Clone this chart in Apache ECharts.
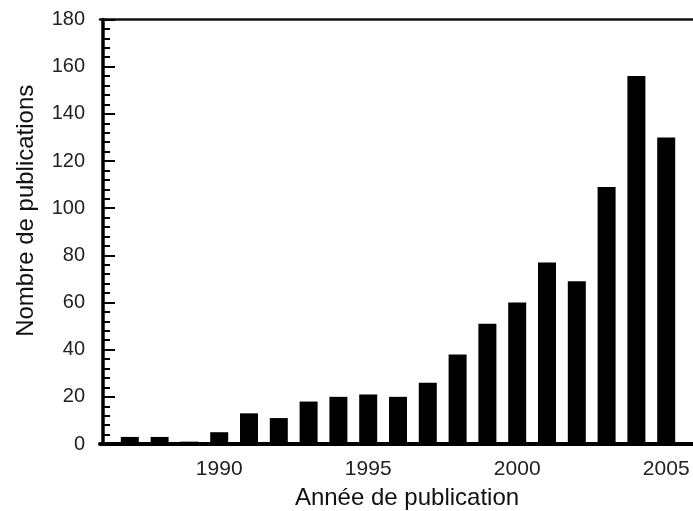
<!DOCTYPE html>
<html>
<head>
	<meta charset="utf-8">
	<title>Nombre de publications</title>
	<script src="https://cdn.jsdelivr.net/npm/echarts@6/dist/echarts.min.js"></script>
	<style type="text/css">
		* { margin: 0; padding: 0; }
		body { background: #fff; overflow: hidden; }
		#main { width: 693px; height: 511px; }
	</style>
</head>
<body>
<div id="main"></div>
<script type="text/javascript">
    var years = [1987, 1988, 1989, 1990, 1991, 1992, 1993, 1994, 1995, 1996,
                 1997, 1998, 1999, 2000, 2001, 2002, 2003, 2004, 2005];
    var counts = [3, 3, 1, 5, 13, 11, 18, 20, 21, 20,
                  26, 38, 51, 60, 77, 69, 109, 156, 130];
    var yTicks = [0, 20, 40, 60, 80, 100, 120, 140, 160, 180];

    var font = "'Liberation Sans', Arial, sans-serif";
    var barData = [];
    for (var i = 0; i < years.length; i++) {
        barData.push([years[i], counts[i]]);
    }

    var myChart = echarts.init(document.getElementById('main'));
    var option = {
        animation: false,
        grid: {
            left: 100,
            right: -3,
            top: 19.5,
            bottom: 67,
            outerBoundsMode: 'none'
        },
        xAxis: [{
            type: 'value',
            min: 1986,
            max: 2006,
            interval: 1,
            name: 'Année de publication',
            nameLocation: 'middle',
            nameGap: 42,
            nameTextStyle: {
                fontFamily: font,
                fontSize: 24,
                color: '#111',
                padding: [0, 0, 0, 18]
            },
            axisLine: { lineStyle: { color: '#000', width: 4 } },
            axisTick: { show: false },
            splitLine: { show: false },
            axisLabel: {
                margin: 15,
                fontFamily: font,
                fontSize: 21,
                color: '#222',
                formatter: function (v) {
                    return v % 5 === 0 ? String(v) : '';
                }
            }
        }, {
            // trait du haut
            type: 'value',
            position: 'top',
            min: 1986,
            max: 2006,
            axisLine: { lineStyle: { color: '#111', width: 2.5 } },
            axisTick: { show: false },
            axisLabel: { show: false },
            splitLine: { show: false }
        }],
        yAxis: {
            type: 'value',
            min: 0,
            max: 180,
            interval: 20,
            offset: -3,
            name: 'Nombre de publications',
            nameLocation: 'middle',
            nameGap: 65,
            nameTextStyle: {
                fontFamily: font,
                fontSize: 24,
                color: '#111',
                padding: [0, 0, 0, 42]
            },
            axisLine: { show: true, lineStyle: { color: '#000', width: 3.5 } },
            axisTick: {
                show: true,
                inside: true,
                length: 12,
                lineStyle: { color: '#000', width: 2 }
            },
            minorTick: {
                show: true,
                splitNumber: 5,
                length: 7,
                lineStyle: { color: '#000', width: 2 }
            },
            splitLine: { show: false },
            axisLabel: {
                margin: 18,
                fontFamily: font,
                fontSize: 20,
                color: '#222',
                customValues: yTicks
            }
        },
        series: [{
            type: 'bar',
            xAxisIndex: 0,
            data: barData,
            barWidth: 18,
            itemStyle: { color: '#000' }
        }]
    };
    myChart.setOption(option);
</script>
</body>
</html>
